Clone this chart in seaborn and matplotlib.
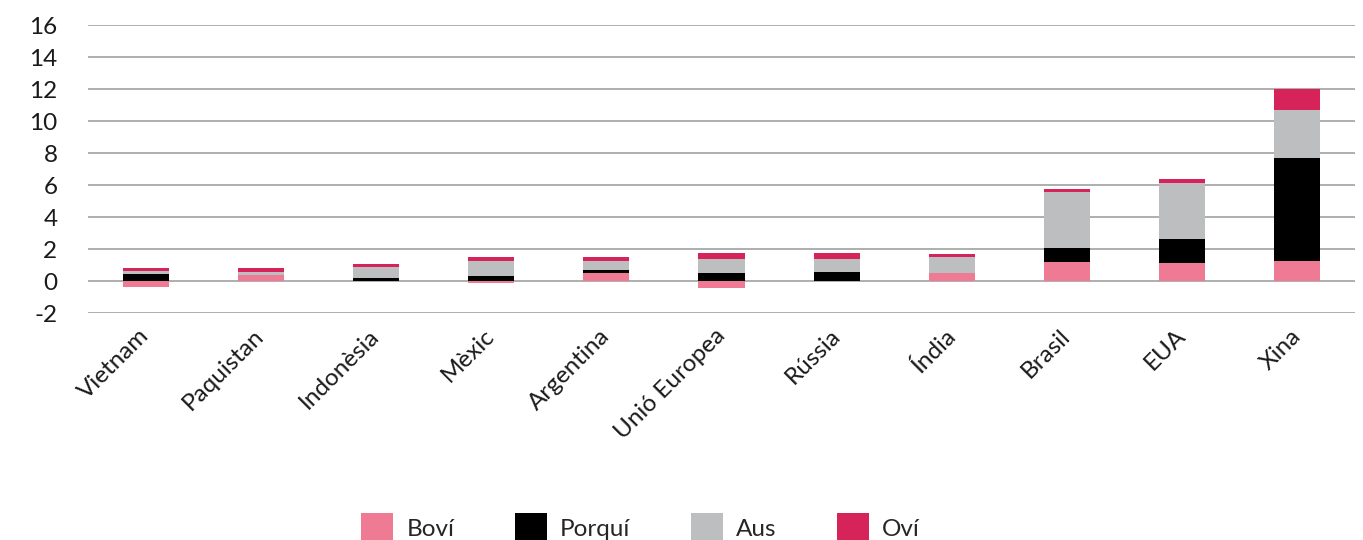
import numpy as np
import pandas as pd
import matplotlib.pyplot as plt
import seaborn as sns
from matplotlib.patches import Patch

# Values
countries = ["Vietnam", "Paquistan", "Indonèsia", "Mèxic", "Argentina", "Unió Europea",
             "Rússia", "Índia", "Brasil", "EUA", "Xina"]
bovi = [-0.38, 0.40, 0.0, -0.10, 0.52, -0.42, 0.0, 0.52, 1.20, 1.14, 1.27]
porqui = [0.44, 0.0, 0.16, 0.32, 0.19, 0.52, 0.54, 0.0, 0.875, 1.50, 6.44]
aus = [0.19, 0.17, 0.69, 0.96, 0.56, 0.875, 0.86, 0.96, 3.50, 3.50, 2.98]
ovi = [0.16, 0.25, 0.19, 0.19, 0.20, 0.33, 0.33, 0.19, 0.19, 0.25, 1.33]

series_names = ["Boví", "Porquí", "Aus", "Oví"]
colors = ["#EE7B93", "#000000", "#BDBEC0", "#D6235A"]

sns.set_style("white")
plt.rcParams['font.family'] = ['Lato', 'DejaVu Sans']
plt.rcParams['axes.unicode_minus'] = False

df = pd.DataFrame({"pais": countries, "bovi": bovi, "porqui": porqui, "aus": aus, "ovi": ovi})
# positive values stack upwards, negative ones downwards
df["neg_bovi"] = df["bovi"].clip(upper=0)
df["c_bovi"] = df["bovi"].clip(lower=0)
df["c_porqui"] = df["c_bovi"] + df["porqui"]
df["c_aus"] = df["c_porqui"] + df["aus"]
df["c_ovi"] = df["c_aus"] + df["ovi"]

W, H = 1363, 540
fig = plt.figure(figsize=(W / 100, H / 100), dpi=100)
ax = fig.add_axes([88 / W, 1 - 313 / H, (1355 - 88) / W, 288 / H])

# draw cumulative layers from top to bottom so lower layers cover upper ones
for col, color in zip(["c_ovi", "c_aus", "c_porqui", "c_bovi", "neg_bovi"],
                      [colors[3], colors[2], colors[1], colors[0], colors[0]]):
    sns.barplot(data=df, x="pais", y=col, color=color, width=0.4, saturation=1,
                ax=ax, zorder=3, linewidth=0)

ax.set_ylim(-2, 16)
ax.set_yticks(range(-2, 17, 2))
ax.grid(axis="y", color="#A8A8A8", linewidth=1.3, zorder=0)
ax.set_axisbelow(True)
sns.despine(ax=ax, left=True, bottom=True)
ax.set_xlabel("")
ax.set_ylabel("")
ax.tick_params(axis="y", length=0, pad=22, labelsize=17.5, labelcolor="#1a1a1a")
ax.tick_params(axis="x", length=0, pad=14, labelsize=17.5, labelcolor="#1a1a1a")
plt.setp(ax.get_xticklabels(), rotation=45, ha="right", va="center", rotation_mode="anchor")

handles = [Patch(facecolor=c, edgecolor="none", label=n) for n, c in zip(series_names, colors)]
fig.legend(handles=handles, loc="center", bbox_to_anchor=(0.47, 0.022), ncol=4, frameon=False,
           fontsize=17.5, handlelength=1.3, handleheight=1.6, handletextpad=0.55,
           columnspacing=2.5)

fig.savefig("out.png", dpi=100)
